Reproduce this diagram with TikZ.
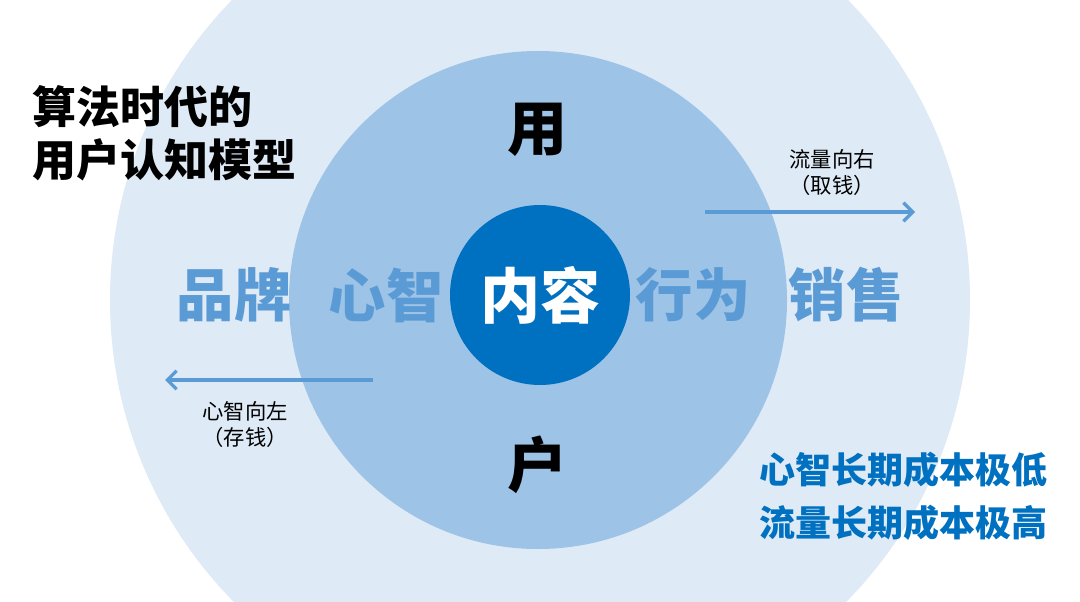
\documentclass[tikz,border=0pt]{standalone}
\usepackage{fontspec}
\newfontfamily\cjk{Noto Sans CJK SC}
\usetikzlibrary{arrows.meta}
\definecolor{outerblue}{HTML}{DEEAF6}
\definecolor{midblue}{HTML}{9DC3E6}
\definecolor{coreblue}{HTML}{0070C0}
\definecolor{wordblue}{HTML}{5B9BD5}
\tikzset{
    big/.style = {font=\cjk\bfseries\fontsize{45}{50}\selectfont},
    word/.style = {font=\cjk\bfseries\fontsize{43}{48}\selectfont, text=wordblue},
    title/.style = {font=\cjk\bfseries\fontsize{33}{38}\selectfont, anchor=west},
    small/.style = {font=\cjk\fontsize{16}{18}\selectfont},
    note/.style = {font=\cjk\bfseries\fontsize{27}{31}\selectfont, text=coreblue},
    flow/.style = {draw=wordblue, line width=2.4pt, -{Straight Barb[length=7pt,width=14pt]}}
}
\begin{document}
\begin{tikzpicture}[x=0.75pt, y=-0.75pt]
    \useasboundingbox (0,0) rectangle (1080,602);
    \fill[white] (0,0) rectangle (1080,602);
    \begin{scope}
        \clip (0,0) rectangle (1080,602);
        % Circles
        \fill[outerblue] (540,300) circle (430);
        \fill[midblue]   (538,300) circle (249);
        \fill[coreblue]  (540,295) circle (90);
    \end{scope}

    % Title
    \node[title] (t1) at (28,107) {算法时代的};
    \node[title] (t2) at (28,160) {用户认知模型};

    % Ring words
    \node[big] (yong) at (537,130) {用};
    \node[big] (hu)   at (537,465) {户};
    \node[word] (pinpai) at (234,295) {品牌};
    \node[word] (xinzhi) at (386,295) {心智};
    \node[big, text=white] (neirong) at (540,295) {内容};
    \node[word] (xingwei) at (693,295) {行为};
    \node[word] (xiaoshou) at (846,295) {销售};

    % Flows
    \coordinate (r0) at (705,212);
    \coordinate (r1) at (915,212);
    \draw[flow] (r0) -- (r1);
    \node[small] (rl1) at (832,159) {流量向右};
    \node[small] (rl2) at (832,185) {（取钱）};

    \coordinate (l0) at (373,380);
    \coordinate (l1) at (165,380);
    \draw[flow] (l0) -- (l1);
    \node[small] (ll1) at (245,411) {心智向左};
    \node[small] (ll2) at (245,437) {（存钱）};

    % Note
    \node[note] (n1) at (903,470) {心智长期成本极低};
    \node[note] (n2) at (903,523) {流量长期成本极高};
\end{tikzpicture}
\end{document}
